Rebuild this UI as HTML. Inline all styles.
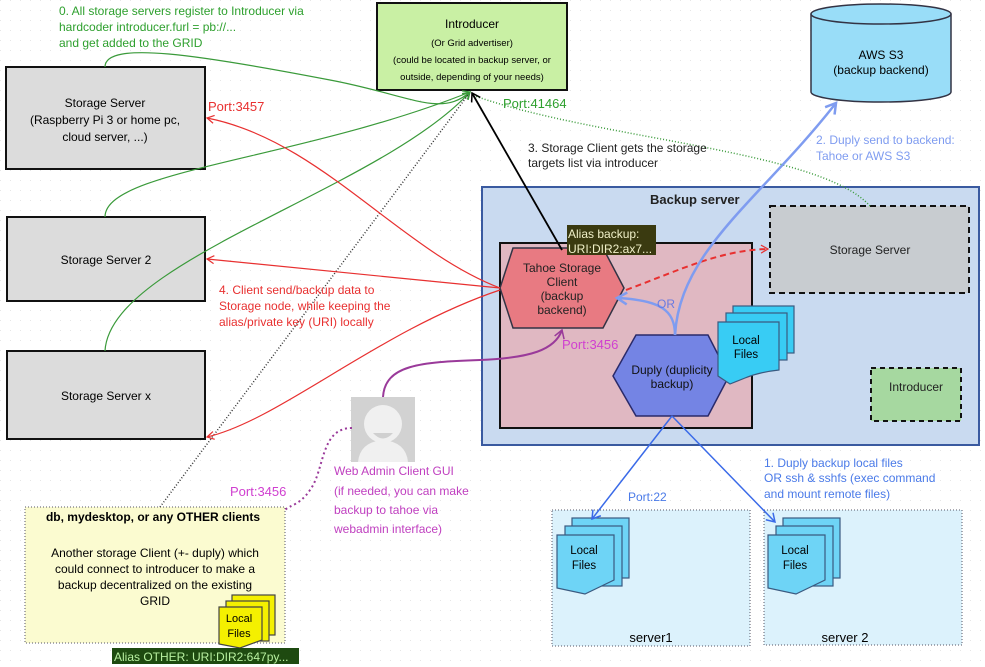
<!DOCTYPE html>
<html><head><meta charset="utf-8"><style>
html,body{margin:0;padding:0;background:#fff;}
svg{display:block;font-family:"Liberation Sans",sans-serif;}
</style></head><body>
<svg width="985" height="667" viewBox="0 0 985 667" xmlns="http://www.w3.org/2000/svg">
<defs>
<pattern id="dots" width="10" height="10" patternUnits="userSpaceOnUse"><rect width="1" height="1" fill="#e6e6e6"/></pattern>
<marker id="ag" markerWidth="10" markerHeight="10" refX="8" refY="5" orient="auto" markerUnits="userSpaceOnUse"><path d="M1,1 L8,5 L1,9" fill="none" stroke="#3a9a3a" stroke-width="1.2"/></marker>
<marker id="ar" markerWidth="10" markerHeight="10" refX="8" refY="5" orient="auto" markerUnits="userSpaceOnUse"><path d="M1,1 L8,5 L1,9" fill="none" stroke="#e83030" stroke-width="1.2"/></marker>
<marker id="ak" markerWidth="12" markerHeight="12" refX="9" refY="6" orient="auto" markerUnits="userSpaceOnUse"><path d="M1,1 L9,6 L1,11" fill="none" stroke="#000" stroke-width="1.5"/></marker>
<marker id="ab" markerWidth="14" markerHeight="14" refX="11" refY="7" orient="auto" markerUnits="userSpaceOnUse"><path d="M1,1 L11,7 L1,13" fill="none" stroke="#7f9cf0" stroke-width="2.5"/></marker>
<marker id="ab2" markerWidth="12" markerHeight="12" refX="9" refY="6" orient="auto" markerUnits="userSpaceOnUse"><path d="M1,1 L9,6 L1,11" fill="none" stroke="#3a6ae8" stroke-width="1.5"/></marker>
<marker id="ap" markerWidth="12" markerHeight="12" refX="9" refY="6" orient="auto" markerUnits="userSpaceOnUse"><path d="M1,1 L9,6 L1,11" fill="none" stroke="#9a3a9a" stroke-width="1.5"/></marker>
</defs>
<rect width="985" height="667" fill="#fff"/>
<rect width="985" height="667" fill="url(#dots)"/>

<!-- Introducer -->
<rect x="377" y="3" width="190" height="87" fill="#c9f0a4" stroke="#111" stroke-width="2"/>
<text x="472" y="28" font-size="12" text-anchor="middle">Introducer</text>
<text x="472" y="46" font-size="9.5" text-anchor="middle">(Or Grid advertiser)</text>
<text x="472" y="63" font-size="9.5" text-anchor="middle">(could be located in backup server, or</text>
<text x="472" y="80" font-size="9.5" text-anchor="middle">outside, depending of your needs)</text>

<!-- green text -->
<g fill="#2ea02e" font-size="12">
<text x="59" y="15">0. All storage servers register to Introducer via</text>
<text x="59" y="31">hardcoder introducer.furl = pb://...</text>
<text x="59" y="47">and get added to the GRID</text>
<text x="503" y="108" font-size="13">Port:41464</text>
</g>

<!-- Storage servers -->
<rect x="6" y="67" width="199" height="102" fill="#dcdcdc" stroke="#111" stroke-width="2"/>
<text x="105" y="107" font-size="12" text-anchor="middle">Storage Server</text>
<text x="105" y="124" font-size="12" text-anchor="middle">(Raspberry  Pi 3 or home pc,</text>
<text x="105" y="141" font-size="12" text-anchor="middle">cloud server, ...)</text>
<rect x="7" y="217" width="198" height="84" fill="#dcdcdc" stroke="#111" stroke-width="2"/>
<text x="106" y="264" font-size="12" text-anchor="middle">Storage Server 2</text>
<rect x="7" y="351" width="198" height="88" fill="#dcdcdc" stroke="#111" stroke-width="2"/>
<text x="106" y="400" font-size="12" text-anchor="middle">Storage Server x</text>

<!-- AWS S3 -->
<path d="M811,14 L811,92 A70,10 0 0 0 951,92 L951,14" fill="#99ddf8" stroke="#334" stroke-width="1.5"/>
<ellipse cx="881" cy="14" rx="70" ry="10" fill="#99ddf8" stroke="#334" stroke-width="1.5"/>
<text x="881" y="59" font-size="12" text-anchor="middle">AWS S3</text>
<text x="881" y="74" font-size="12" text-anchor="middle">(backup backend)</text>

<!-- Backup server -->
<rect x="482" y="187" width="497" height="258" fill="#c9daf0" stroke="#3a5aa0" stroke-width="2"/>
<text x="650" y="204" font-size="13" font-weight="bold" fill="#222">Backup server</text>
<rect x="500" y="243" width="252" height="185" fill="#e0b8c2" stroke="#111" stroke-width="2"/>
<rect x="770" y="206" width="199" height="87" fill="#c8ccd0" stroke="#111" stroke-width="2" stroke-dasharray="6,4"/>
<text x="870" y="254" font-size="12" text-anchor="middle" fill="#222">Storage Server</text>
<rect x="871" y="368" width="90" height="53" fill="#a6d8a0" stroke="#111" stroke-width="2" stroke-dasharray="5,4"/>
<text x="916" y="391" font-size="12" text-anchor="middle" fill="#222">Introducer</text>

<!-- Tahoe hexagon -->
<polygon points="513,248 603,248 624,288 603,328 513,328 500,288" fill="#e87a82" stroke="#334" stroke-width="1.5"/>
<text x="562" y="272" font-size="12" text-anchor="middle" fill="#222">Tahoe Storage</text>
<text x="562" y="286" font-size="12" text-anchor="middle" fill="#222">Client</text>
<text x="562" y="300" font-size="12" text-anchor="middle" fill="#222">(backup</text>
<text x="562" y="314" font-size="12" text-anchor="middle" fill="#222">backend)</text>
<rect x="567" y="225" width="89" height="30" fill="#3a3a10"/>
<text x="568" y="238" font-size="12" fill="#f0f0c8">Alias backup:</text>
<text x="568" y="253" font-size="12" fill="#f0f0c8">URI:DIR2:ax7...</text>

<!-- Duply hexagon -->
<polygon points="636,335 708,335 729,376 708,416 636,416 613,376" fill="#7484e4" stroke="#2a2a6a" stroke-width="1.5"/>
<text x="672" y="374" font-size="12" text-anchor="middle" fill="#111">Duply (duplicity</text>
<text x="672" y="388" font-size="12" text-anchor="middle" fill="#111">backup)</text>

<!-- local files (cyan) backup -->
<g fill="#38ccf4" stroke="#3a5a80" stroke-width="1.2">
<rect x="733" y="306" width="61" height="47"/>
<rect x="726" y="313" width="61" height="47"/>
<path d="M718,322 L779,322 L779,370 Q760,372 745,378 L730,384 L718,376 Z"/>
</g>
<text x="746" y="344" font-size="11.5" text-anchor="middle">Local</text>
<text x="746" y="358" font-size="11.5" text-anchor="middle">Files</text>

<!-- servers 1,2 -->
<rect x="552" y="510" width="198" height="136" fill="#dcf2fc" stroke="#556" stroke-width="1" stroke-dasharray="1,2"/>
<rect x="764" y="510" width="198" height="135" fill="#dcf2fc" stroke="#556" stroke-width="1" stroke-dasharray="1,2"/>
<text x="651" y="642" font-size="13" text-anchor="middle">server1</text>
<text x="845" y="642" font-size="13" text-anchor="middle">server 2</text>
<g fill="#6ed4f6" stroke="#3a5a80" stroke-width="1.2">
<rect x="572" y="518" width="57" height="60"/><rect x="565" y="526" width="57" height="60"/>
<path d="M557,535 L614,535 L614,580 L585,594 L557,588 Z"/>
<rect x="783" y="518" width="57" height="60"/><rect x="776" y="526" width="57" height="60"/>
<path d="M768,535 L825,535 L825,580 L796,594 L768,588 Z"/>
</g>
<text x="584" y="554" font-size="11.5" text-anchor="middle">Local</text>
<text x="584" y="569" font-size="11.5" text-anchor="middle">Files</text>
<text x="795" y="554" font-size="11.5" text-anchor="middle">Local</text>
<text x="795" y="569" font-size="11.5" text-anchor="middle">Files</text>

<!-- yellow OTHER box -->
<rect x="25" y="507" width="260" height="136" fill="#fbfbd0" stroke="#556" stroke-width="1" stroke-dasharray="1,2"/>
<text x="153" y="521" font-size="12" font-weight="bold" text-anchor="middle">db, mydesktop, or  any OTHER clients</text>
<g font-size="12" text-anchor="middle">
<text x="155" y="557">Another storage Client (+- duply) which</text>
<text x="155" y="573">could connect to introducer to make a</text>
<text x="155" y="589">backup decentralized on the existing</text>
<text x="155" y="605">GRID</text>
</g>
<g fill="#f4f000" stroke="#444" stroke-width="1.2">
<rect x="232" y="595" width="43" height="40"/><rect x="226" y="601" width="43" height="40"/>
<path d="M219,607 L262,607 L262,640 L240,648 L219,644 Z"/>
</g>
<text x="239" y="622" font-size="11" text-anchor="middle">Local</text>
<text x="239" y="637" font-size="11" text-anchor="middle">Files</text>
<rect x="112" y="648" width="187" height="16" fill="#1e4a10"/>
<text x="114" y="661" font-size="12" fill="#b8f0a0">Alias OTHER: URI:DIR2:647py...</text>

<!-- person -->
<rect x="351" y="397" width="64" height="65" fill="#d2d2d2"/>
<circle cx="383" cy="424" r="19" fill="#f0f0f0"/>
<path d="M373,433 Q383,444 393,433 Z" fill="#d0d0d0"/>
<path d="M358,462 Q360,442 383,440 Q406,442 408,462 Z" fill="#f0f0f0"/>

<!-- green connectors -->
<g fill="none" stroke="#3a9a3a" stroke-width="1.2">
<path d="M105,67 C105,40 200,55 330,80 C410,95 440,118 470,92" marker-end="url(#ag)"/>
<path d="M105,217 C105,170 300,160 470,92" marker-end="url(#ag)"/>
<path d="M105,351 C110,260 380,190 470,92" marker-end="url(#ag)"/>
<path d="M870,206 C820,150 600,140 475,96" stroke-dasharray="1,2" stroke-width="1.5"/>
</g>
<!-- black -->
<path d="M562,250 L472,93" stroke="#000" stroke-width="1.8" fill="none" marker-end="url(#ak)"/>
<path d="M160,507 L468,95" stroke="#333" stroke-width="1.5" fill="none" stroke-dasharray="1,2"/>

<!-- red -->
<g fill="none" stroke="#e83030" stroke-width="1.2">
<path d="M500,288 C400,250 320,140 207,118" marker-end="url(#ar)"/>
<path d="M500,288 L207,259" marker-end="url(#ar)"/>
<path d="M500,290 C380,330 280,420 207,437" marker-end="url(#ar)"/>
<path d="M626,290 C680,270 720,250 768,249" stroke-dasharray="6,4" stroke-width="2" marker-end="url(#ar)"/>
</g>
<text x="208" y="111" font-size="13" fill="#e83030">Port:3457</text>
<g font-size="12" fill="#e83030">
<text x="219" y="294">4. Client send/backup data to</text>
<text x="219" y="310">Storage node, while keeping the</text>
<text x="219" y="326">alias/private key (URI) locally</text>
</g>

<!-- blue -->
<g fill="none">
<path d="M675,335 C680,250 760,200 836,103" stroke="#7f9cf0" stroke-width="2.5" marker-end="url(#ab)"/>
<path d="M675,335 C675,310 660,300 617,298" stroke="#7f9cf0" stroke-width="2.5" marker-end="url(#ab)"/>
<path d="M672,416 L592,519" stroke="#3a6ae8" stroke-width="1.5" marker-end="url(#ab2)"/>
<path d="M672,416 L775,522" stroke="#3a6ae8" stroke-width="1.5" marker-end="url(#ab2)"/>
</g>
<text x="657" y="308" font-size="12" fill="#6a7ae0">OR</text>
<g font-size="12" fill="#7f9cf0">
<text x="816" y="144">2. Duply send to backend:</text>
<text x="816" y="160">Tahoe or AWS S3</text>
</g>
<g font-size="12" fill="#4a7ae8">
<text x="764" y="467">1. Duply backup local files</text>
<text x="764" y="482">OR ssh &amp; sshfs (exec command</text>
<text x="764" y="498">and mount remote files)</text>
<text x="628" y="501">Port:22</text>
</g>

<text x="528" y="152" font-size="12" fill="#222">3. Storage Client gets the storage</text>
<text x="528" y="167" font-size="12" fill="#222">targets list via introducer</text>

<!-- purple -->
<path d="M383,397 C385,365 420,362 480,360 C530,358 555,350 562,330" stroke="#9a3a9a" stroke-width="2" fill="none" marker-end="url(#ap)"/>
<path d="M352,428 C320,428 325,470 310,490 C300,505 290,505 285,510" stroke="#9a3a9a" stroke-width="2" fill="none" stroke-dasharray="2,3"/>
<text x="562" y="349" font-size="13" fill="#d040d0">Port:3456</text>
<text x="230" y="496" font-size="13" fill="#d040d0">Port:3456</text>
<g font-size="12" fill="#c040c0">
<text x="334" y="475">Web Admin Client GUI</text>
<text x="334" y="495">(if needed, you can make</text>
<text x="334" y="514">backup to tahoe via</text>
<text x="334" y="533">webadmin interface)</text>
</g>
</svg>
</body></html>
